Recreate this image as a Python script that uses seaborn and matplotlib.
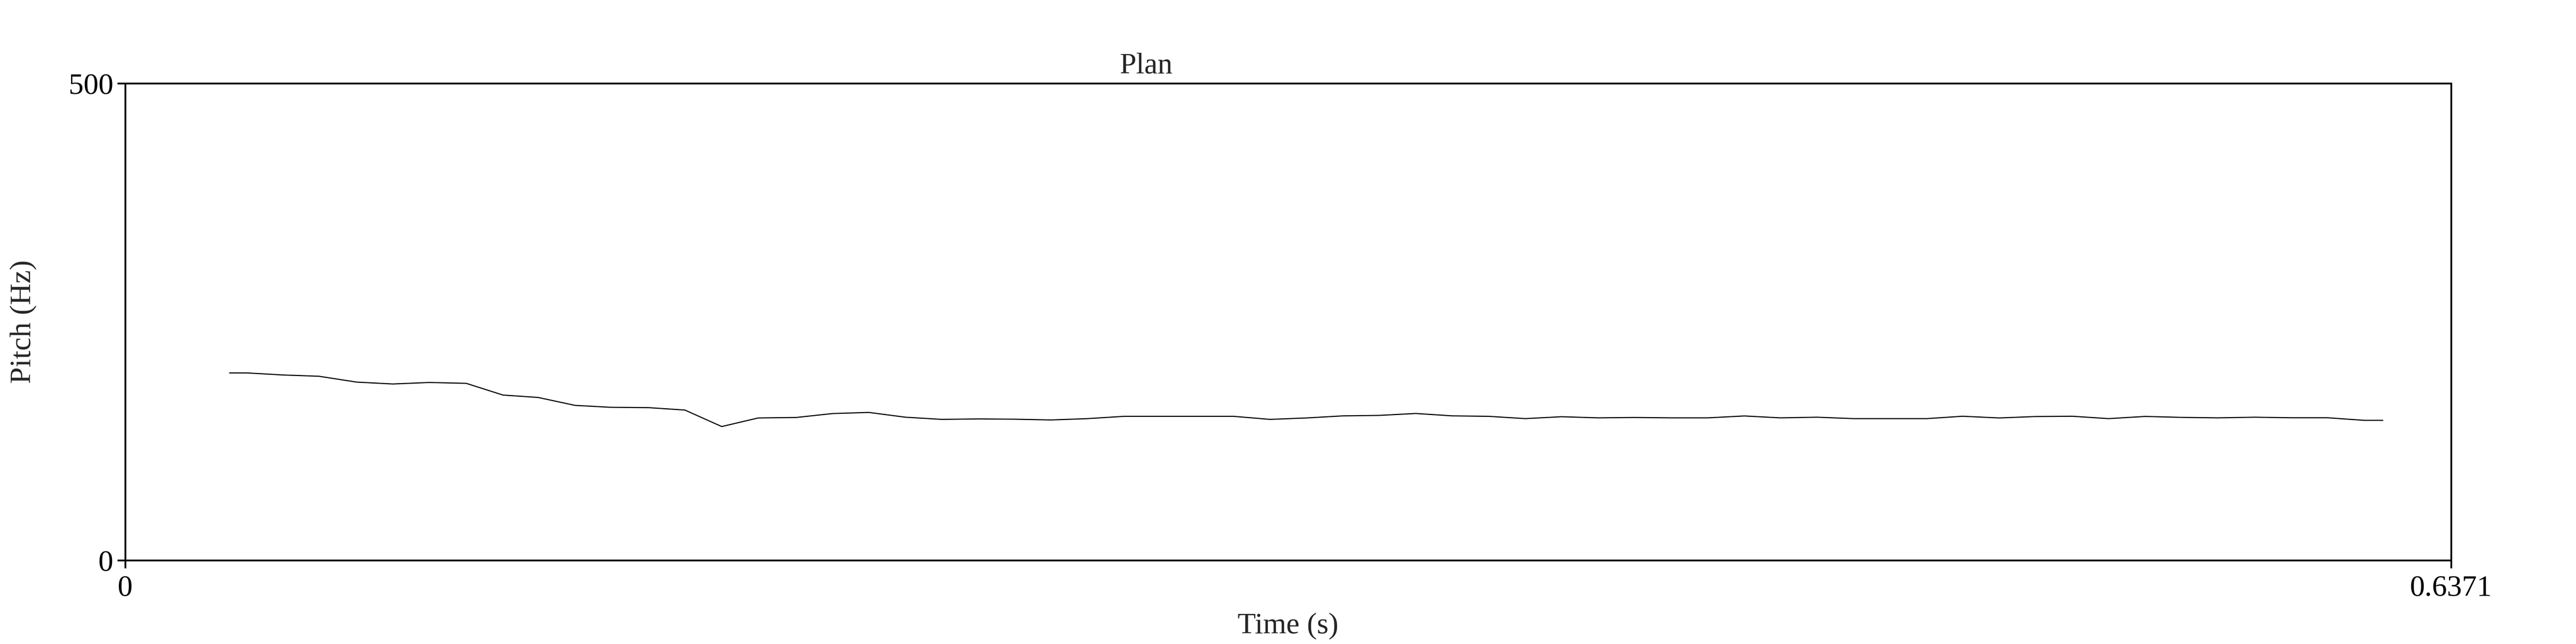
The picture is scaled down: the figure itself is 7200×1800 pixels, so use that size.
import pandas as pd
import seaborn as sns
import matplotlib.pyplot as plt

# pitch track (time in s, pitch in Hz)
times = [0.0286, 0.0334, 0.0430, 0.0531, 0.0634, 0.0733, 0.0833, 0.0934, 0.1035, 0.1131,
         0.1232, 0.1328, 0.1434, 0.1533, 0.1634, 0.1734, 0.1838,
         0.1937, 0.2037, 0.2137, 0.2237, 0.2337, 0.2436, 0.2536, 0.2636, 0.2736,
         0.2836, 0.2936, 0.3036, 0.3136, 0.3236, 0.3336, 0.3436,
         0.3535, 0.3635, 0.3735, 0.3835, 0.3935, 0.4035, 0.4135, 0.4235, 0.4335,
         0.4435, 0.4534, 0.4634, 0.4734, 0.4835, 0.4935, 0.5033,
         0.5133, 0.5233, 0.5333, 0.5433, 0.5533, 0.5633, 0.5733, 0.5833, 0.5933,
         0.6033, 0.6133, 0.6184]
pitch = [196.4, 196.4, 194.3, 192.9, 186.8, 184.8, 186.4, 185.5, 173.2, 170.7,
         162.4, 160.4, 160.0, 157.5, 140.2, 149.2, 149.7,
         153.8, 155.0, 150.0, 147.7, 148.2, 147.9, 147.1, 148.5, 150.9,
         150.9, 150.9, 150.9, 147.7, 149.2, 151.4, 151.9,
         153.9, 151.4, 150.9, 148.5, 150.5, 149.3, 149.7, 149.3, 149.3,
         151.3, 149.3, 150.0, 148.5, 148.5, 148.5, 151.0,
         149.2, 150.7, 151.0, 148.5, 150.8, 149.8, 149.3, 150.0, 149.4,
         149.4, 146.7, 146.7]

x_ticks = [0, 0.6371]
x_tick_labels = ['0', '0.6371']
y_ticks = [0, 500]
y_tick_labels = ['0', '500']

df = pd.DataFrame({'time': times, 'pitch': pitch})

sns.set_style('ticks')
plt.rcParams['font.family'] = ['Liberation Serif', 'DejaVu Serif']

fig = plt.figure(figsize=(72, 18), dpi=100)
ax = fig.add_axes([0.0486, 0.13, 0.9029, 0.7406])

sns.lineplot(data=df, x='time', y='pitch', ax=ax, color='black', linewidth=2.2,
             sort=False, estimator=None)

ax.set_xlim(x_ticks[0], x_ticks[-1])
ax.set_ylim(y_ticks[0], y_ticks[-1])
ax.set_xticks(x_ticks)
ax.set_xticklabels(x_tick_labels)
ax.set_yticks(y_ticks)
ax.set_yticklabels(y_tick_labels)

for s in ax.spines.values():
    s.set_visible(True)
    s.set_linewidth(3.6)
    s.set_color('black')

ax.tick_params(axis='both', direction='out', length=16, width=3.6,
               labelsize=60, pad=8, colors='black')
ax.tick_params(axis='x', pad=14)

ax.set_xlabel('Time (s)', fontsize=60)
ax.set_ylabel('Pitch (Hz)', fontsize=60)
ax.xaxis.set_label_coords(0.5, -0.11)
ax.yaxis.set_label_coords(-0.038, 0.5)

ax.set_title('Plan', fontsize=60, x=0.439, pad=20)

fig.savefig('out.png', dpi=100, facecolor='white')
